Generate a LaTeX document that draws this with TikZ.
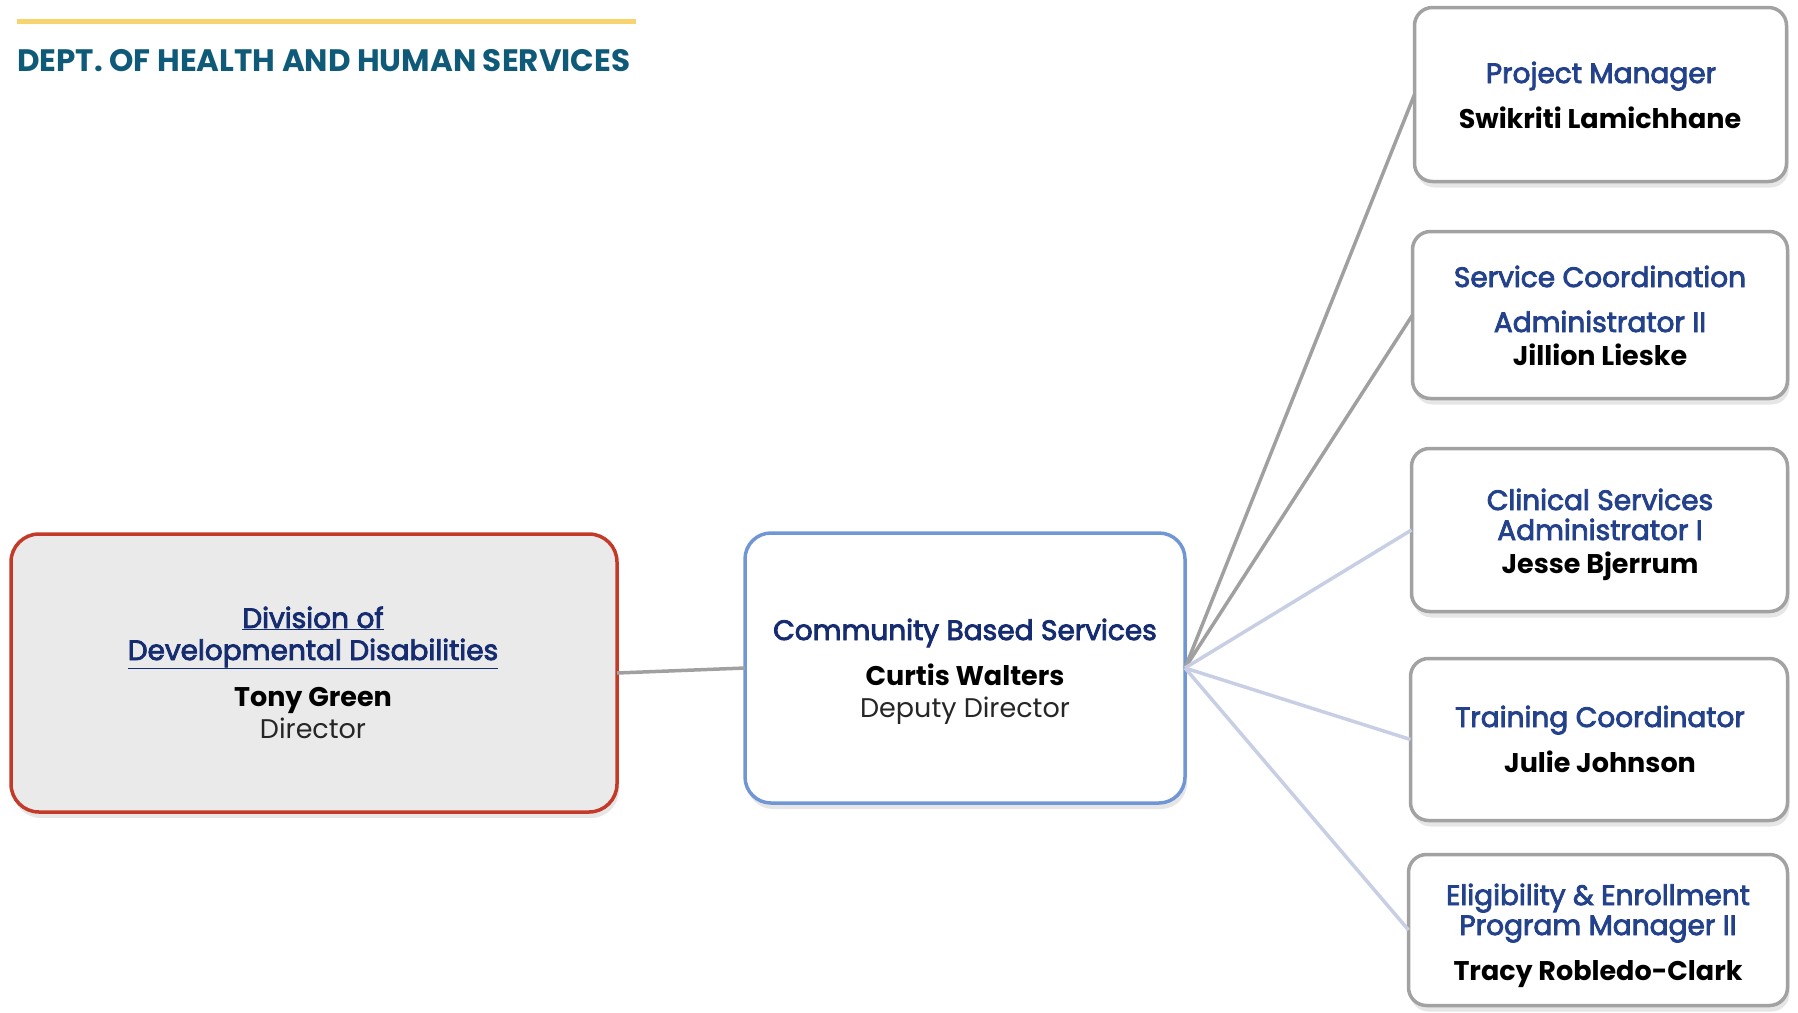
\documentclass[tikz,border=0pt]{standalone}
\usepackage{fontspec}
\setmainfont{Poppins}
\newfontfamily\medfont{Poppins}[FakeBold=3]
\usetikzlibrary{shadows}
\definecolor{hdrteal}{RGB}{14,90,120}
\definecolor{goldline}{RGB}{247,212,110}
\definecolor{navyA}{RGB}{22,44,112}
\definecolor{navyB}{RGB}{36,66,140}
\definecolor{redborder}{RGB}{196,58,40}
\definecolor{blueborder}{RGB}{112,150,214}
\definecolor{grayborder}{RGB}{162,162,162}
\definecolor{boxgray}{RGB}{234,234,234}
\definecolor{linkgray}{RGB}{160,160,160}
\definecolor{linkblue}{RGB}{200,207,228}
\tikzset{
  card/.style={rectangle, inner sep=0pt, outer sep=0pt, line width=3.5pt,
    drop shadow={opacity=0.2, shadow xshift=2pt, shadow yshift=-6pt}},
  ddbox/.style={card, draw=redborder, fill=boxgray, rounded corners=28pt},
  cbbox/.style={card, draw=blueborder, fill=white, rounded corners=26pt},
  subbox/.style={card, draw=grayborder, fill=white, rounded corners=18pt},
  lbl/.style={anchor=base, inner sep=0pt, outer sep=0pt},
  ttlA/.style={lbl, text=navyA, font=\medfont\fontsize{28}{32}\selectfont},
  ttlB/.style={lbl, text=navyB, font=\medfont\fontsize{28}{32}\selectfont},
  nm/.style={lbl, text=black, font=\fontsize{27}{32}\selectfont\bfseries},
  role/.style={lbl, text=black!85, font=\fontsize{27}{32}\selectfont},
  linkG/.style={draw=linkgray, line width=3.5pt},
  linkB/.style={draw=linkblue, line width=3.5pt},
}
\begin{document}
\begin{tikzpicture}[x=1pt, y=-1pt]
\useasboundingbox (0,0) rectangle (1798,1012);
% header
\draw[goldline, line width=5pt] (17,21) -- (636,21);
\node[anchor=base west, inner sep=0pt, text=hdrteal, font=\fontsize{31}{32}\selectfont\bfseries] (hdr) at (17,71) {DEPT. OF HEALTH AND HUMAN SERVICES};
% boxes
\node[ddbox, minimum width=606pt, minimum height=278pt] (ddd) at (314,673) {};
\node[cbbox, minimum width=440pt, minimum height=270pt] (cbs) at (965,668) {};
\node[subbox, minimum width=372pt, minimum height=174pt] (pm) at (1600.5,94.5) {};
\node[subbox, minimum width=375pt, minimum height=167pt] (sca) at (1600,315) {};
\node[subbox, minimum width=376pt, minimum height=163pt] (csa) at (1599.5,530) {};
\node[subbox, minimum width=377pt, minimum height=162pt] (tc) at (1599,739.5) {};
\node[subbox, minimum width=379pt, minimum height=151pt] (ee) at (1598,930) {};
% connectors
\draw[linkG] (ddd.east) -- (cbs.west);
\draw[linkG] (cbs.east) -- (pm.west);
\draw[linkG] (cbs.east) -- (sca.west);
\draw[linkB] (cbs.east) -- (csa.west);
\draw[linkB] (cbs.east) -- (tc.west);
\draw[linkB] (cbs.east) -- (ee.west);
% texts: DDD
\node[ttlA] (ddd-t1) at (313,628) {\underline{Division of}};
\node[ttlA] (ddd-t2) at (313,660) {\underline{Developmental Disabilities}};
\node[nm] (ddd-n) at (313,706) {Tony Green};
\node[role] (ddd-r) at (313,738) {Director};
% CBS
\node[ttlA] (cbs-t) at (965,640) {Community Based Services};
\node[nm] (cbs-n) at (965,685) {Curtis Walters};
\node[role] (cbs-r) at (965,717) {Deputy Director};
% PM
\node[ttlB] (pm-t) at (1601,83) {Project Manager};
\node[nm] (pm-n) at (1600,128) {Swikriti Lamichhane};
% SCA
\node[ttlB] (sca-t1) at (1600,287) {Service Coordination};
\node[ttlB] (sca-t2) at (1600,332) {Administrator II};
\node[nm] (sca-n) at (1600,365) {Jillion Lieske};
% CSA
\node[ttlB] (csa-t1) at (1600,510) {Clinical Services};
\node[ttlB] (csa-t2) at (1600,540) {Administrator I};
\node[nm] (csa-n) at (1600,573) {Jesse Bjerrum};
% TC
\node[ttlB] (tc-t) at (1600,727) {Training Coordinator};
\node[nm] (tc-n) at (1600,772) {Julie Johnson};
% EE
\node[ttlB] (ee-t1) at (1598,905) {Eligibility \& Enrollment};
\node[ttlB] (ee-t2) at (1598,935) {Program Manager II};
\node[nm] (ee-n) at (1598,980) {Tracy Robledo-Clark};
\end{tikzpicture}
\end{document}
